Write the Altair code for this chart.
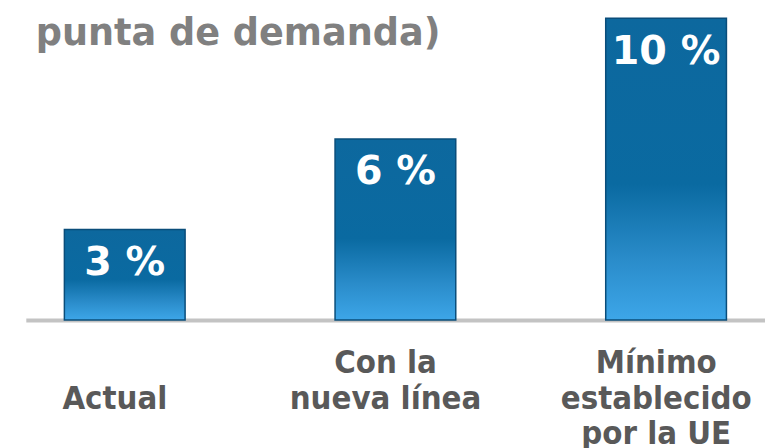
import altair as alt
import pandas as pd

# ---- data ----
categories = ["Actual", "Con la nueva línea", "Mínimo establecido por la UE"]
axis_labels = [" \nActual", "Con la\nnueva línea", "Mínimo\nestablecido\npor la UE"]
values = [3, 6, 10]
value_labels = ["3 %", "6 %", "10 %"]
title_text = ["punta de demanda)"]

df = pd.DataFrame({"cat": categories, "axislab": axis_labels, "v": values, "lab": value_labels})
title_df = pd.DataFrame({"t": title_text})

x_scale = alt.Scale(paddingInner=0.554, paddingOuter=0.1425)
y_scale = alt.Scale(domain=[0, 10], nice=False)

x_enc = alt.X(
    "axislab:N",
    sort=axis_labels,
    scale=x_scale,
    title=None,
    axis=alt.Axis(
        labelExpr="split(datum.label, '\\n')",
        labelAngle=0,
        labelFont="DejaVu Sans Condensed",
        labelFontWeight="bold",
        labelFontSize=33,
        labelLineHeight=36,
        labelLimit=400,
        labelColor="#595959",
        labelBaseline="top",
        labelPadding=27,
        labelOffset=-10,
        domain=True,
        domainColor="#c3c3c3",
        domainWidth=4,
        ticks=False,
        grid=False,
    ),
)
y_enc = alt.Y("v:Q", scale=y_scale, axis=None)

base = alt.Chart(df)

gradient = alt.Gradient(
    gradient="linear",
    stops=[
        alt.GradientStop(color="#0d689e", offset=0),
        alt.GradientStop(color="#0a6aa1", offset=0.55),
        alt.GradientStop(color="#2a8cca", offset=0.8),
        alt.GradientStop(color="#3da6e8", offset=1),
    ],
    x1=0, x2=0, y1=0, y2=1,
)
bars = base.mark_bar(color=gradient, stroke="#0a4d7a", strokeWidth=1.5).encode(x=x_enc, y=y_enc)

bar_text = base.mark_text(
    dy=46,
    baseline="alphabetic",
    align="center",
    font="DejaVu Sans",
    fontWeight="bold",
    fontSize=40,
    color="white",
).encode(x=x_enc, y=y_enc, text="lab:N")

title = alt.Chart(title_df).mark_text(
    align="left",
    baseline="alphabetic",
    font="DejaVu Sans",
    fontWeight="bold",
    fontSize=37,
    color="#808080",
).encode(x=alt.value(10), y=alt.value(27), text="t:N")

chart = (
    alt.layer(bars, bar_text, title)
    .properties(
        width=747,
        height=305,
        padding={"left": 18, "top": 5, "right": 0, "bottom": 0},
    )
    .configure_view(strokeWidth=0)
)

chart.save("out.html", embed_options={"renderer": "svg", "actions": False})
